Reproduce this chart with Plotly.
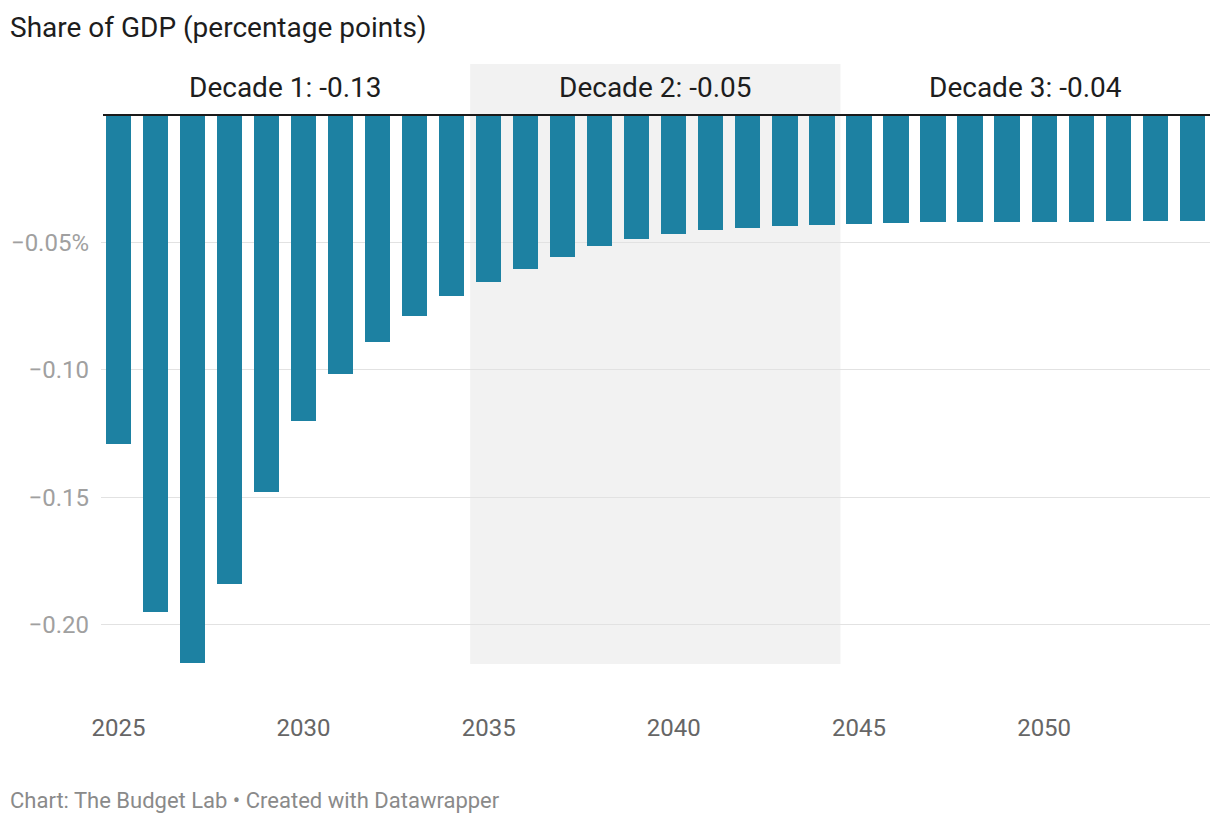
import plotly.graph_objects as go

years = list(range(2025, 2055))
values = [-0.129, -0.195, -0.215, -0.184, -0.148, -0.120, -0.1015, -0.089, -0.079, -0.071,
          -0.0655, -0.0605, -0.0555, -0.0515, -0.0487, -0.0467, -0.0452, -0.0443, -0.0436, -0.0431,
          -0.0427, -0.0424, -0.0421, -0.0420, -0.0420, -0.0420, -0.0418, -0.0417, -0.0417, -0.0417]

decade_labels = ["Decade 1: -0.13", "Decade 2: -0.05", "Decade 3: -0.04"]
decade_centers = [2029.5, 2039.5, 2049.5]

ytick_vals = [-0.05, -0.10, -0.15, -0.20]
ytick_text = ["\u22120.05%", "\u22120.10", "\u22120.15", "\u22120.20"]
xtick_vals = [2025, 2030, 2035, 2040, 2045, 2050]

FONT = "Roboto"
W, H = 1220, 824
L, R, T, B = 101, 10, 64, 160
PW, PH = W - L - R, H - T - B

fig = go.Figure()
fig.add_trace(go.Bar(x=years, y=values, width=0.68, marker=dict(color="#1d81a2", line=dict(width=0)),
                     hoverinfo="x+y"))

# shaded second decade
fig.add_shape(type="rect", xref="x", yref="paper", x0=2034.5, x1=2044.5, y0=0, y1=1,
              fillcolor="#f2f2f2", line=dict(width=0), layer="below")
# zero line
fig.add_shape(type="line", xref="paper", yref="y", x0=2 / PW, x1=1, y0=0, y1=0,
              line=dict(color="#1a1a1a", width=2))

for lab, cx in zip(decade_labels, decade_centers):
    fig.add_annotation(x=cx, y=0.0106, xref="x", yref="y", text=lab, showarrow=False,
                       font=dict(family=FONT, size=28, color="#1d1d1d"), xanchor="center", yanchor="middle")

fig.add_annotation(x=(8 - L) / PW, y=(T + PH - 800) / PH, xref="paper", yref="paper",
                   text="Chart: The Budget Lab \u2022 Created with Datawrapper",
                   showarrow=False, xanchor="left", yanchor="middle",
                   font=dict(family=FONT, size=22, color="#8a8a8a"))

fig.update_layout(
    width=W, height=H,
    margin=dict(l=L, r=R, t=T, b=B),
    paper_bgcolor="white", plot_bgcolor="rgba(0,0,0,0)",
    showlegend=False,
    bargap=0,
    font=dict(family=FONT),
    title=dict(text="Share of GDP (percentage points)", x=10 / W, xanchor="left", xref="container",
               y=1 - 27 / H, yanchor="middle", yref="container",
               font=dict(family=FONT, size=28, color="#1d1d1d")),
    xaxis=dict(range=[2024.53, 2054.48], tickvals=xtick_vals, ticks="", showgrid=False, zeroline=False,
               showline=False, ticklabelstandoff=47,
               tickfont=dict(family=FONT, size=24, color="#666666")),
    yaxis=dict(range=[-0.2153, 0.02], tickvals=ytick_vals, ticktext=ytick_text, ticks="",
               showgrid=True, gridcolor="#e2e2e2", gridwidth=1.3, zeroline=False, showline=False,
               ticklabelstandoff=11,
               tickfont=dict(family=FONT, size=24, color="#a0a0a0")),
)

fig.write_html("out.html", config={"displayModeBar": False},
               post_script="document.body.style.margin='0';document.body.style.overflow='hidden';")
